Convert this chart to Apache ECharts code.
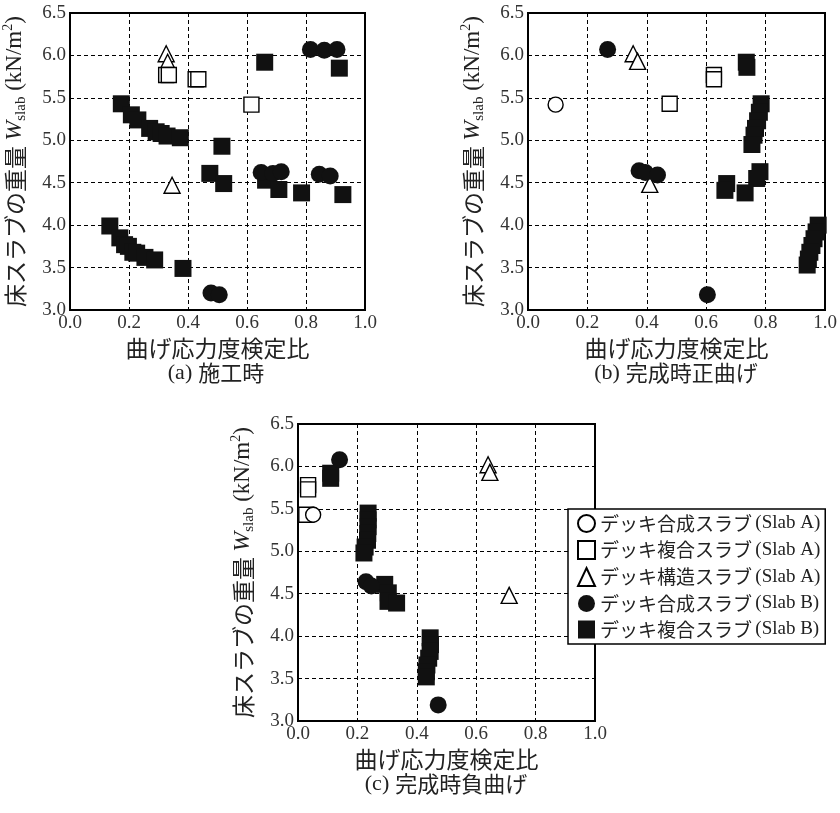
<!DOCTYPE html>
<html><head><meta charset="utf-8">
<script src="https://cdn.jsdelivr.net/npm/echarts@6/dist/echarts.min.js"></script>
<style>html,body{margin:0;padding:0;background:#fff}#c{width:840px;height:813px}</style>
</head><body><div id="c"></div>
<script>
// ---- tick labels ----
const xTicks = [0.0, 0.2, 0.4, 0.6, 0.8, 1.0];
const yTicks = [3.0, 3.5, 4.0, 4.5, 5.0, 5.5, 6.0, 6.5];
const seriesNames = ['デッキ合成スラブ (Slab A)','デッキ複合スラブ (Slab A)','デッキ構造スラブ (Slab A)','デッキ合成スラブ (Slab B)','デッキ複合スラブ (Slab B)'];
const panelCaptions = ['(a)|施工時','(b)|完成時正曲げ','(c)|完成時負曲げ'];

// ---- panel (a) ----
const aOpenCircle = [];
const aOpenSquare = [[0.326,5.77],[0.335,5.77],[0.426,5.72],[0.435,5.72],[0.615,5.42]];
const aTriangle = [[0.326,6.02],[0.331,5.92],[0.346,4.47]];
const aFilledCircle = [[0.815,6.07],[0.862,6.06],[0.905,6.07],[0.648,4.62],[0.688,4.61],[0.716,4.63],[0.845,4.60],[0.882,4.58],[0.478,3.20],[0.506,3.18]];
const aFilledSquare = [[0.660,5.92],[0.913,5.85],[0.174,5.43],[0.208,5.30],[0.230,5.24],[0.270,5.14],[0.292,5.10],[0.309,5.08],[0.329,5.05],[0.374,5.03],[0.515,4.93],[0.474,4.61],[0.521,4.49],[0.663,4.53],[0.708,4.42],[0.785,4.38],[0.925,4.36],[0.135,3.99],[0.169,3.85],[0.185,3.77],[0.198,3.75],[0.213,3.68],[0.226,3.67],[0.254,3.62],[0.287,3.59],[0.383,3.49]];

// ---- panel (b) ----
const bOpenCircle = [[0.093,5.42]];
const bOpenSquare = [[0.477,5.43],[0.626,5.77],[0.626,5.72]];
const bTriangle = [[0.354,6.02],[0.369,5.93],[0.410,4.48]];
const bFilledCircle = [[0.268,6.07],[0.374,4.64],[0.395,4.62],[0.436,4.59],[0.604,3.18]];
const bFilledSquare = [[0.735,5.92],[0.737,5.86],[0.785,5.43],[0.779,5.33],[0.773,5.23],[0.766,5.14],[0.761,5.06],[0.754,4.95],[0.781,4.63],[0.770,4.55],[0.669,4.49],[0.663,4.41],[0.731,4.38],[0.977,4.00],[0.970,3.92],[0.963,3.84],[0.956,3.76],[0.949,3.68],[0.944,3.60],[0.940,3.53]];

// ---- panel (c) ----
const cOpenCircle = [[0.051,5.43]];
const cOpenSquare = [[0.034,5.78],[0.034,5.73],[0.028,5.43]];
const cTriangle = [[0.640,6.02],[0.646,5.93],[0.711,4.48]];
const cFilledCircle = [[0.140,6.08],[0.229,4.64],[0.247,4.59],[0.472,3.19]];
const cFilledSquare = [[0.110,5.92],[0.110,5.86],[0.236,5.45],[0.236,5.37],[0.236,5.29],[0.235,5.21],[0.234,5.13],[0.226,5.05],[0.222,4.98],[0.292,4.61],[0.304,4.51],[0.303,4.41],[0.332,4.39],[0.445,3.98],[0.446,3.90],[0.445,3.82],[0.440,3.74],[0.434,3.66],[0.432,3.58],[0.432,3.52]];

const panels = [
  {grid:{left:68, top:13}, cap:[216,373], data:[aOpenCircle,aOpenSquare,aTriangle,aFilledCircle,aFilledSquare]},
  {grid:{left:528, top:13}, cap:[676,373], data:[bOpenCircle,bOpenSquare,bTriangle,bFilledCircle,bFilledSquare]},
  {grid:{left:298, top:424}, cap:[446,784], data:[cOpenCircle,cOpenSquare,cTriangle,cFilledCircle,cFilledSquare]}
];

const SERIF = 'Liberation Serif';
const JP = 'Noto Sans CJK JP';
const styles = [
  {symbol:'circle', size:15, item:{color:'#fff', borderColor:'#000', borderWidth:1.4, opacity:1}, z:4},
  {symbol:'rect', size:15, item:{color:'#fff', borderColor:'#000', borderWidth:1.4, opacity:1}, z:3},
  {symbol:'triangle', size:16, item:{color:'#fff', borderColor:'#000', borderWidth:1.4, opacity:1}, z:2},
  {symbol:'circle', size:17, item:{color:'#111', borderColor:'#111', borderWidth:0, opacity:1}, z:6},
  {symbol:'rect', size:17, item:{color:'#111', borderColor:'#111', borderWidth:0, opacity:1}, z:5}
];

const grid = [], xAxis = [], yAxis = [], series = [], graphic = [];
const yName = '{j|床スラブの重量 }{w|W}{sub|slab}{s| (kN/m}{sup|2}{s|)}';
const yRich = {
  j:{fontFamily:JP, fontSize:23, color:'#222', lineHeight:28, verticalAlign:'middle'},
  w:{fontFamily:SERIF, fontStyle:'italic', fontSize:24, color:'#222', verticalAlign:'middle'},
  sub:{fontFamily:SERIF, fontSize:15, color:'#222', verticalAlign:'bottom'},
  s:{fontFamily:SERIF, fontSize:23, color:'#222', verticalAlign:'middle'},
  sup:{fontFamily:SERIF, fontSize:14, color:'#222', verticalAlign:'top'}
};
panels.forEach((p, i) => {
  grid.push({left:p.grid.left, top:p.grid.top, width:297, height:297, show:true, borderColor:'#000', borderWidth:2, backgroundColor:'transparent'});
  xAxis.push({
    type:'value', gridIndex:i, min:xTicks[0], max:xTicks[xTicks.length-1], interval:xTicks[1]-xTicks[0],
    axisLine:{show:true, onZero:false, lineStyle:{color:'#000', width:2}},
    axisTick:{show:false},
    splitLine:{show:true, lineStyle:{color:'#000', width:1, type:[4,3]}},
    axisLabel:{fontFamily:SERIF, fontSize:19, color:'#333', margin:4, formatter:v => v.toFixed(1)},
    name:'曲げ応力度検定比', nameLocation:'middle', nameGap:27,
    nameTextStyle:{fontFamily:JP, fontSize:23, color:'#222'}
  });
  yAxis.push({
    type:'value', gridIndex:i, min:yTicks[0], max:yTicks[yTicks.length-1], interval:yTicks[1]-yTicks[0],
    axisLine:{show:true, onZero:false, lineStyle:{color:'#000', width:2}},
    axisTick:{show:false},
    splitLine:{show:true, lineStyle:{color:'#000', width:1, type:[4,3]}},
    axisLabel:{fontFamily:SERIF, fontSize:19, color:'#333', margin:4, formatter:v => v.toFixed(1)},
    name:yName, nameLocation:'middle', nameGap:41,
    nameTextStyle:{rich:yRich}
  });
  p.data.forEach((d, k) => {
    const st = styles[k];
    series.push({
      type:'scatter', name:seriesNames[k], xAxisIndex:i, yAxisIndex:i, data:d,
      symbol:st.symbol, symbolSize:st.size, itemStyle:st.item, z:st.z,
      emphasis:{disabled:true}, silent:true, animation:false
    });
  });
  const parts = panelCaptions[i].split('|');
  graphic.push({
    type:'text', x:p.cap[0], y:p.cap[1],
    style:{text:'{s|'+parts[0]+'}{j|'+parts[1]+'}', align:'center', verticalAlign:'middle',
      rich:{s:{fontFamily:SERIF, fontSize:22, fill:'#222', padding:[0,6,0,0]}, j:{fontFamily:JP, fontSize:22, fill:'#222'}}}
  });
});

const chart = echarts.init(document.getElementById('c'), null, {renderer:'canvas'});
chart.setOption({
  animation:false,
  backgroundColor:'#fff',
  grid, xAxis, yAxis, series, graphic,
  legend:{
    data:seriesNames, orient:'vertical', left:568, top:509,
    backgroundColor:'#fff', borderColor:'#000', borderWidth:1.5,
    padding:[5,5,5,9], itemGap:7, itemWidth:17, itemHeight:18, itemStyle:{opacity:1},
    selectedMode:false,
    formatter:n => { const m = n.match(/^(\S+) (\(.*\))$/); return '{j|'+m[1]+'} {s|'+m[2]+'}'; },
    textStyle:{color:'#222', rich:{
      j:{fontFamily:JP, fontSize:19, color:'#222', lineHeight:18},
      s:{fontFamily:SERIF, fontSize:19, color:'#222', lineHeight:18}
    }}
  }
});
</script>
</body></html>
